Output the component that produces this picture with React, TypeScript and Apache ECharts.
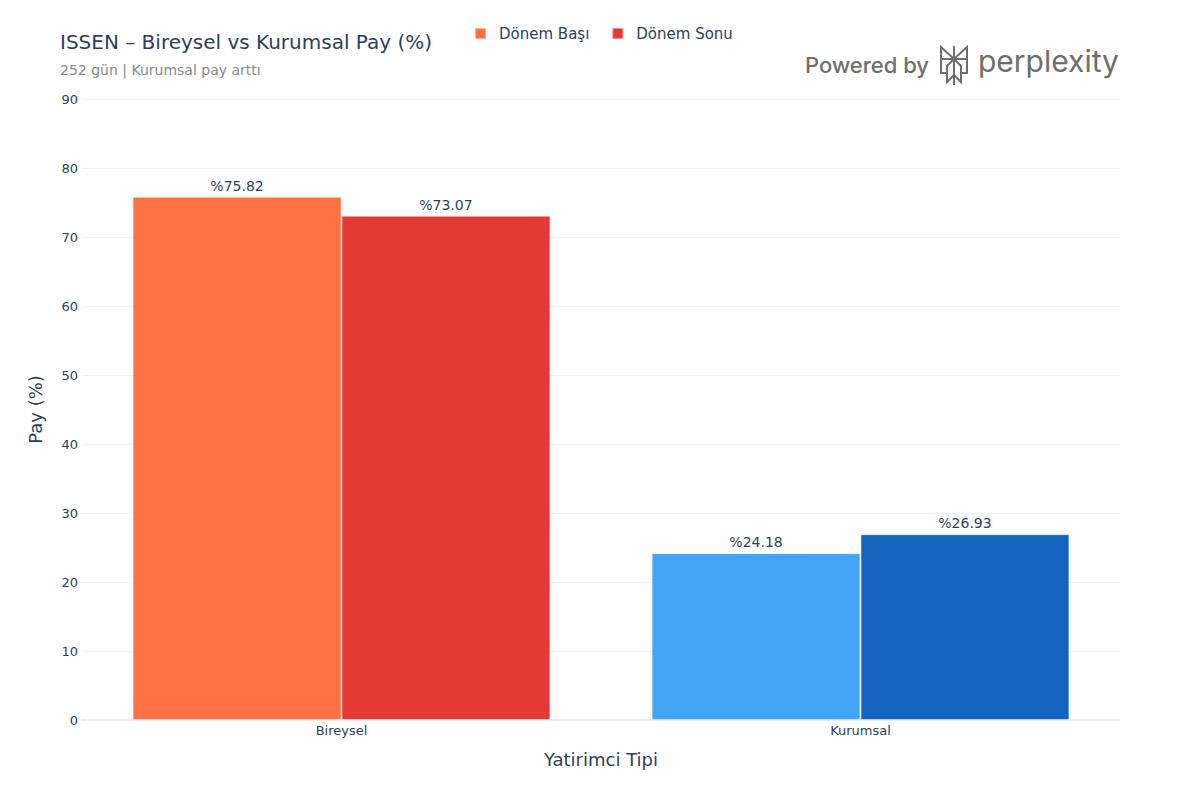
import { useEffect, useRef } from 'react'
import * as echarts from 'echarts'

const categories = ['Bireysel', 'Kurumsal']
const seriesNames = ['Dönem Başı', 'Dönem Sonu']
const startValues = [75.82, 24.18]
const endValues = [73.07, 26.93]
const startColors = ['#FF7043', '#42A5F5']
const endColors = ['#E53935', '#1565C0']

const FONT = '"DejaVu Sans", Verdana, sans-serif'
const INK = '#2a3f5f'

// perplexity işareti, 32x40 kutuda
const LOGO_D =
  'M16 1 V40 M3 2 L16 14 L29 2 V14 H3 Z M3 14 V28 H9 M16 14 L9 21 V37 L16 30 M16 14 L23 21 V37 L16 30 M29 14 V28 H23'

echarts.graphic.registerShape('pplxLogo', echarts.graphic.extendPath(LOGO_D, {}))

function buildSeries(name: string, values: number[], colors: string[]) {
  return {
    name,
    type: 'bar',
    barGap: '0%',
    barCategoryGap: '19.5%',
    itemStyle: { color: colors[0], borderColor: 'rgba(255,255,255,0.45)', borderWidth: 1 },
    data: values.map((v, i) => ({ value: v, itemStyle: { color: colors[i] } })),
    label: {
      show: true,
      position: 'top',
      distance: 4,
      fontFamily: FONT,
      fontSize: 14,
      color: INK,
      formatter: (p: any) => '%' + Number(p.value).toFixed(2),
    },
  }
}

export default function App() {
  const ref = useRef<HTMLDivElement>(null)

  useEffect(() => {
    document.body.style.margin = '0'
    if (!ref.current) return
    const chart = echarts.init(ref.current, null, { renderer: 'svg' })
    chart.setOption({
      animation: false,
      backgroundColor: '#fff',
      textStyle: { fontFamily: FONT },
      title: [
        {
          text: 'ISSEN – Bireysel vs Kurumsal Pay (%)',
          left: 60,
          top: 32,
          padding: 0,
          textStyle: { fontFamily: FONT, fontSize: 20, fontWeight: 'normal', color: INK },
        },
        {
          text: '252 gün | Kurumsal pay arttı',
          left: 60,
          top: 63,
          padding: 0,
          textStyle: { fontFamily: FONT, fontSize: 14, fontWeight: 'normal', color: '#888' },
        },
      ],
      legend: {
        data: seriesNames,
        left: 474,
        top: 26,
        padding: 0,
        icon: 'rect',
        itemWidth: 11,
        itemHeight: 11,
        itemGap: 22,
        textStyle: { fontFamily: FONT, fontSize: 15, color: INK, padding: [0, 0, 0, 8] },
      },
      grid: { left: 82, right: 80, top: 99, bottom: 80, containLabel: false },
      xAxis: {
        type: 'category',
        data: categories,
        name: 'Yatirimci Tipi',
        nameLocation: 'middle',
        nameGap: 30,
        nameTextStyle: { fontFamily: FONT, fontSize: 18, color: INK },
        axisLine: { show: true, lineStyle: { color: '#E8ECF2', width: 2 } },
        axisTick: { show: false },
        axisLabel: { fontFamily: FONT, fontSize: 13, color: INK, margin: 4 },
      },
      yAxis: {
        type: 'value',
        min: 0,
        max: 90,
        interval: 10,
        name: 'Pay (%)',
        nameLocation: 'middle',
        nameGap: 38,
        nameTextStyle: { fontFamily: FONT, fontSize: 18, color: INK },
        axisLine: { show: false },
        axisTick: { show: false },
        splitLine: { lineStyle: { color: '#EEF1F5', width: 1 } },
        axisLabel: { fontFamily: FONT, fontSize: 13, color: INK, margin: 4 },
      },
      graphic: [
        {
          type: 'text',
          left: 805,
          top: 54,
          style: { text: 'Powered by', font: '500 22px Inter, ' + FONT, fill: '#6e6e6e' },
        },
        {
          type: 'pplxLogo',
          x: 938,
          y: 45,
          scaleX: 1,
          scaleY: 1,
          style: { fill: 'none', stroke: '#6e6e6e', lineWidth: 2 },
        },
        {
          type: 'text',
          left: 978,
          top: 46,
          style: { text: 'perplexity', font: '30px Inter, ' + FONT, fill: '#6e6e6e' },
        },
      ],
      series: [
        buildSeries(seriesNames[0], startValues, startColors),
        buildSeries(seriesNames[1], endValues, endColors),
      ],
    })
    return () => chart.dispose()
  }, [])

  return <div ref={ref} style={{ width: 1200, height: 800 }} />
}
